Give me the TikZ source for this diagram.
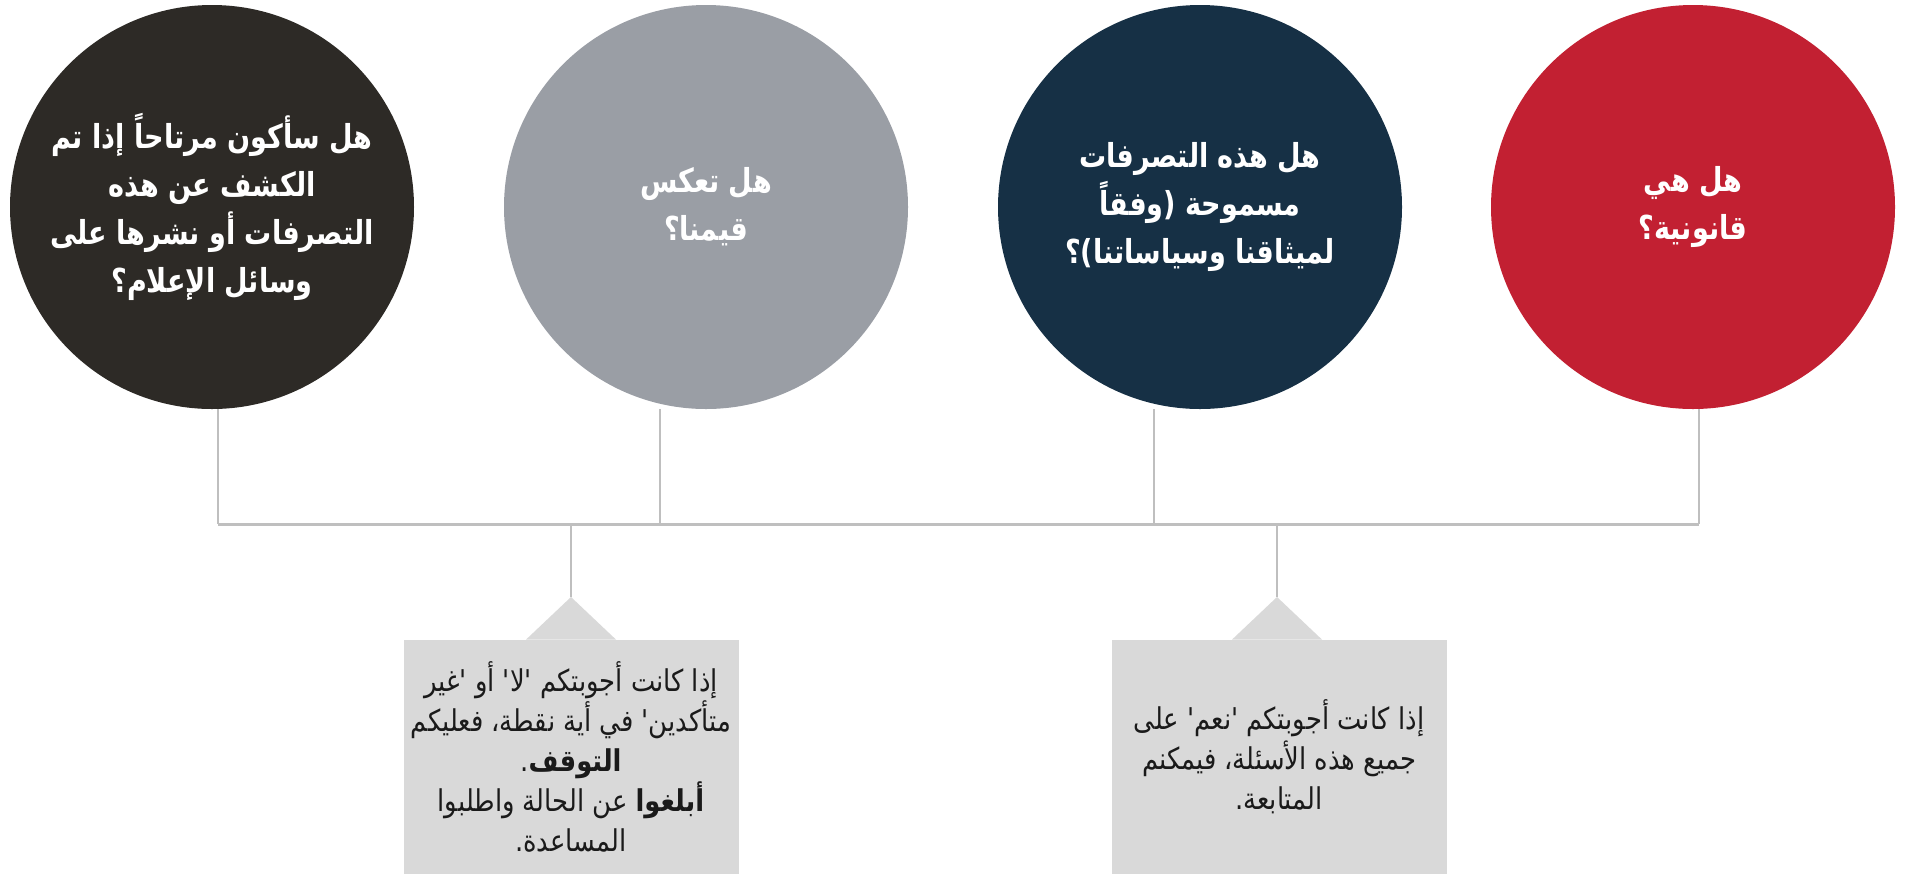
\documentclass[tikz,border=0pt]{standalone}
\usepackage{fontspec}
\TeXXeTstate=1
\newfontfamily\arabicfont[Script=Arabic, FakeStretch=0.82]{DejaVu Sans}
\newfontfamily\arabicbox[Script=Arabic, FakeStretch=0.86]{DejaVu Sans}
\definecolor{cdark}{HTML}{2D2A26}
\definecolor{cgray}{HTML}{9A9EA5}
\definecolor{cnavy}{HTML}{163045}
\definecolor{cred}{HTML}{C22032}
\definecolor{cline}{HTML}{BFBFBF}
\definecolor{cbox}{HTML}{D9D9D9}
\definecolor{ctext}{HTML}{1A1A1A}
\tikzset{
  qcircle/.style={circle, minimum size=202pt, inner sep=0pt, text=white, align=center,
    font=\arabicfont\bfseries\fontsize{16.5}{24}\selectfont},
  infobox/.style={rectangle, fill=cbox, minimum width=167.5pt, minimum height=117pt, inner sep=0pt,
    text=ctext, align=center, font=\arabicbox\fontsize{15}{20}\selectfont},
  conn/.style={draw=cline, line width=1pt},
  bus/.style={draw=cline, line width=1.5pt},
  pointer/.style={fill=cbox}
}
\begin{document}
\begin{tikzpicture}[x=0.5pt,y=-0.5pt]
\useasboundingbox[fill=white] (0,0) rectangle (1905,874);
% circles
\node[qcircle, fill=cdark] (c1) at (212,207) {\beginR هل سأكون مرتاحاً إذا تم\endR\\ \beginR الكشف عن هذه\endR\\ \beginR التصرفات أو نشرها على\endR\\ \beginR وسائل الإعلام؟\endR};
\node[qcircle, fill=cgray] (c2) at (706,207) {\beginR هل تعكس\endR\\ \beginR قيمنا؟\endR};
\node[qcircle, fill=cnavy] (c3) at (1200,207) {\beginR هل هذه التصرفات\endR\\ \beginR مسموحة (وفقاً\endR\\ \beginR لميثاقنا وسياساتنا)؟\endR};
\node[qcircle, fill=cred] (c4) at (1693,207) {\beginR هل هي\endR\\ \beginR قانونية؟\endR};
% boxes
\node[infobox] (b1) at (571,757) {\beginR إذا كانت أجوبتكم 'لا' أو 'غير\endR\\ \beginR متأكدين' في أية نقطة، فعليكم\endR\\ \beginR\textbf{التوقف}.\endR\\ \beginR\textbf{أبلغوا} عن الحالة واطلبوا\endR\\ \beginR المساعدة.\endR};
\node[infobox] (b2) at (1279,757) {\beginR إذا كانت أجوبتكم 'نعم' على\endR\\ \beginR جميع هذه الأسئلة، فيمكنم\endR\\ \beginR المتابعة.\endR};
% pointer triangles
\coordinate (tip1) at (571,597);
\coordinate (tip2) at (1277,597);
\fill[pointer] ([xshift=-22.5pt]b1.north -| tip1) -- (tip1) -- ([xshift=22.5pt]b1.north -| tip1) -- cycle;
\fill[pointer] ([xshift=-22.5pt]b2.north -| tip2) -- (tip2) -- ([xshift=22.5pt]b2.north -| tip2) -- cycle;
% connectors
\coordinate (t1) at (218,409);
\coordinate (t2) at (660,409);
\coordinate (t3) at (1154,409);
\coordinate (t4) at (1699,409);
\coordinate (busL) at (218,524);
\coordinate (busR) at (1699,524);
\draw[conn] (t1) -- (busL);
\draw[conn] (t4) -- (busR);
\draw[conn] (t2) -- (t2 |- busL);
\draw[conn] (t3) -- (t3 |- busL);
\draw[bus] (busL) -- (busR);
\draw[conn] (tip1 |- busL) -- (tip1);
\draw[conn] (tip2 |- busL) -- (tip2);
\end{tikzpicture}
\end{document}
